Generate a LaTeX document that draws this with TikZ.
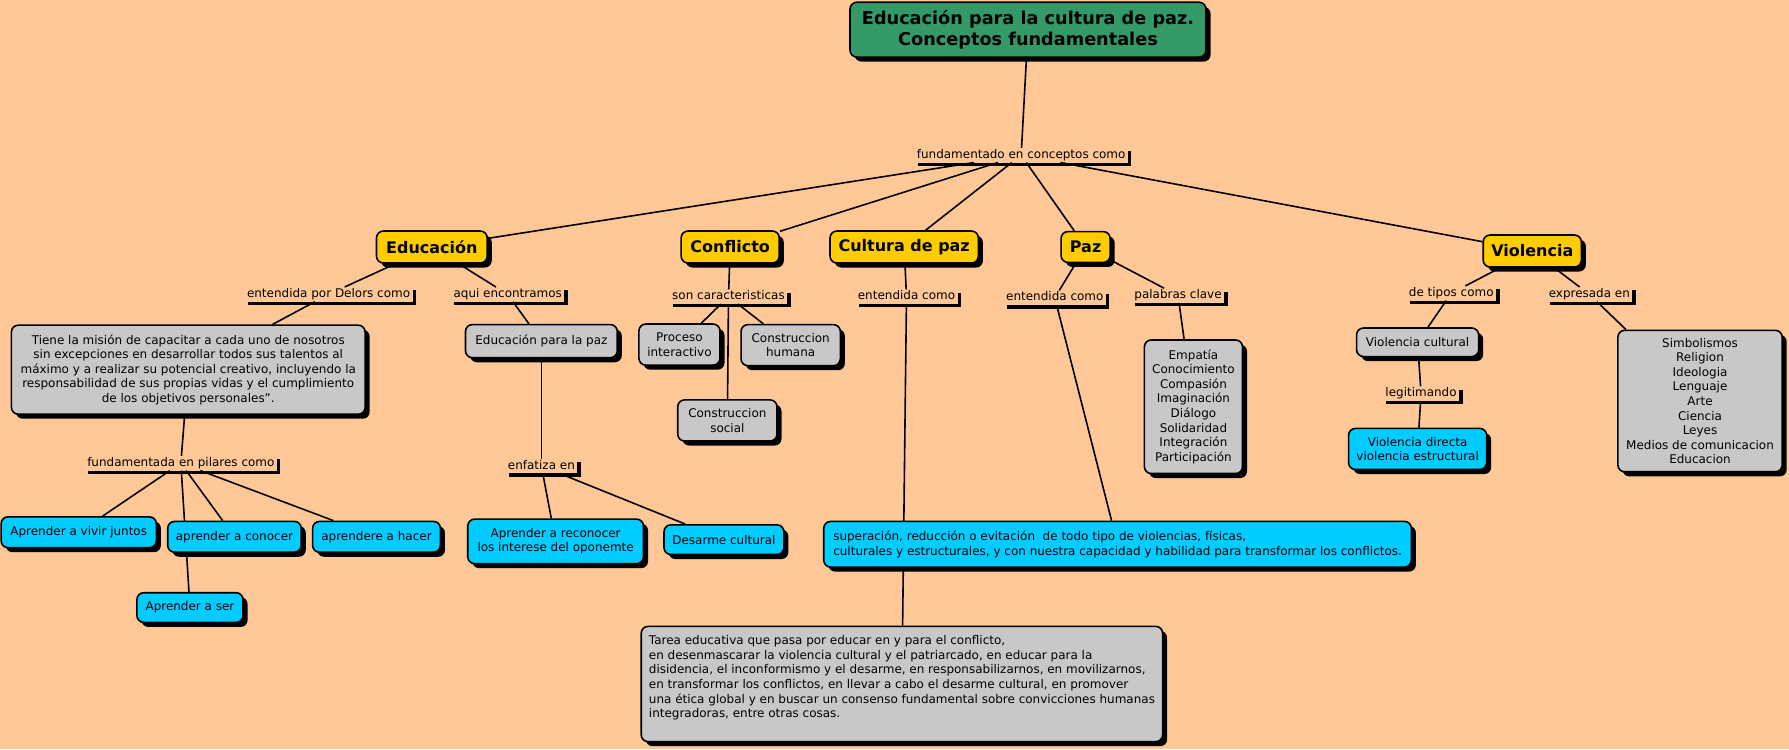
\documentclass[tikz,border=0pt]{standalone}
\usepackage{fontspec}
\setmainfont{DejaVu Sans}
\usetikzlibrary{shadows,backgrounds}

\definecolor{fondo}{RGB}{255,200,150}
\definecolor{verde}{RGB}{51,153,102}
\definecolor{amarillo}{RGB}{255,204,0}
\definecolor{celeste}{RGB}{0,204,255}
\definecolor{gris}{RGB}{200,200,200}

\tikzset{
	caja/.style={draw, line width=1.4pt, rounded corners=6pt, align=center, inner xsep=3pt, inner ysep=2pt,
		drop shadow={shadow xshift=4pt, shadow yshift=-4pt, opacity=1, fill=black}},
	titulo/.style={caja, fill=verde, font=\fontsize{15.5}{19}\selectfont\bfseries},
	concepto/.style={caja, fill=amarillo, font=\fontsize{14}{17}\selectfont\bfseries},
	cgris/.style={caja, fill=gris, font=\fontsize{10.5}{12.8}\selectfont},
	cceleste/.style={caja, fill=celeste, font=\fontsize{10.5}{12.8}\selectfont},
	enlace/.style={inner xsep=2pt, inner ysep=1pt, text height=8pt, text depth=2.5pt, font=\fontsize{10.5}{12.8}\selectfont},
	linea/.style={line width=1.4pt}
}
\def\sombra(#1){\draw[line width=3pt, line join=miter] ([xshift=3pt,yshift=-1.5pt]#1.south west) -- ([xshift=1.5pt,yshift=-1.5pt]#1.south east) -- ([xshift=1.5pt,yshift=-3pt]#1.north east);}

\begin{document}
\begin{tikzpicture}[x=1pt, y=-1pt]
			%%%%% START %%%%%
			\useasboundingbox (0, 0) rectangle (1568, 656.5);
			
			\node[titulo, minimum width=312pt, minimum height=48pt] (titulo) at (901, 26) {Educación para la cultura de paz.\\Conceptos fundamentales};
			\node[enlace] (fundamentado) at (895, 136) {fundamentado en conceptos como};
			
			\node[concepto, minimum width=97pt, minimum height=28pt] (educacion) at (378.5, 216.5) {Educación};
			\node[concepto, minimum width=86pt, minimum height=28pt] (conflicto) at (640, 216.5) {Conflicto};
			\node[concepto, minimum width=130pt, minimum height=28pt] (cultura) at (792.5, 216.5) {Cultura de paz};
			\node[concepto, minimum width=43pt, minimum height=27pt] (paz) at (951.5, 216.5) {Paz};
			\node[concepto, minimum width=86pt, minimum height=28pt] (violencia) at (1343, 220) {Violencia};
			
			% Educacion
			\node[enlace] (delors) at (288, 258) {entendida por Delors como};
			\node[enlace] (encontramos) at (445, 258) {aqui encontramos};
			\node[cgris, minimum width=310pt, minimum height=78pt] (mision) at (165, 324) {Tiene la misión de capacitar a cada uno de nosotros\\sin excepciones en desarrollar todos sus talentos al\\máximo y a realizar su potencial creativo, incluyendo la\\responsabilidad de sus propias vidas y el cumplimiento\\de los objetivos personales”.};
			\node[cgris, minimum width=133pt, minimum height=29pt] (edupaz) at (474.5, 299) {Educación para la paz};
			\node[enlace] (pilares) at (158.5, 406) {fundamentada en pilares como};
			\node[enlace] (enfatiza) at (474.5, 408.5) {enfatiza en\ };
			\node[cceleste, minimum width=136pt, minimum height=27pt] (juntos) at (69, 466.5) {Aprender a vivir juntos};
			\node[cceleste, minimum width=117pt, minimum height=27pt] (conocer) at (205.5, 470.5) {aprender a conocer};
			\node[cceleste, minimum width=112pt, minimum height=27pt] (hacer) at (330, 470.5) {aprendere a hacer};
			\node[cceleste, minimum width=93pt, minimum height=26pt] (ser) at (166.5, 532.5) {Aprender a ser};
			\node[cceleste, minimum width=154pt, minimum height=39pt] (reconocer) at (487, 474.5) {Aprender a reconocer\\los interese del oponemte};
			\node[cceleste, minimum width=105pt, minimum height=26pt] (desarme) at (634.5, 473) {Desarme cultural};
			
			% Conflicto
			\node[enlace] (caracteristicas) at (638.5, 260) {son caracteristicas};
			\node[cgris, minimum width=71pt, minimum height=36pt] (proceso) at (595.5, 302) {Proceso\\interactivo};
			\node[cgris, minimum width=87pt, minimum height=36pt] (humana) at (693, 302.5) {Construccion\\humana};
			\node[cgris, minimum width=87pt, minimum height=36pt] (social) at (637.5, 368.5) {Construccion\\social};
			
			% Cultura de paz y Paz
			\node[enlace] (entcultura) at (794.5, 260) {entendida como};
			\node[enlace] (entpaz) at (924.5, 261) {entendida como};
			\node[enlace] (clave) at (1032.5, 259) {palabras clave};
			\node[cgris, minimum width=86pt, minimum height=117pt] (empatia) at (1046, 356.5) {Empatía\\Conocimiento\\Compasión\\Imaginación\\Diálogo\\Solidaridad\\Integración\\Participación};
			\node[cceleste, minimum width=515pt, minimum height=40pt, align=left] (superacion) at (979.5, 477) {superación, reducción o evitación~ de todo tipo de violencias, físicas,\\culturales y estructurales, y con nuestra capacidad y habilidad para transformar los conflictos.};
			\node[cgris, minimum width=457pt, minimum height=101pt, align=left] (tarea) at (790.5, 599.5) {Tarea educativa que pasa por educar en y para el conflicto,\\en desenmascarar la violencia cultural y el patriarcado, en educar para la\\disidencia, el inconformismo y el desarme, en responsabilizarnos, en movilizarnos,\\en transformar los conflictos, en llevar a cabo el desarme cultural, en promover\\una ética global y en buscar un consenso fundamental sobre convicciones humanas\\integradoras, entre otras cosas.\\ \mbox{}};
			
			% Violencia
			\node[enlace] (tipos) at (1272, 257) {de tipos como};
			\node[enlace] (expresada) at (1393, 258) {expresada en};
			\node[cgris, minimum width=107pt, minimum height=25pt] (vcultural) at (1242.5, 300) {Violencia cultural};
			\node[enlace] (legitimando) at (1245.5, 345) {legitimando};
			\node[cceleste, minimum width=121pt, minimum height=36pt] (vdirecta) at (1242.5, 393.5) {Violencia directa\\violencia estructural};
			\node[cgris, minimum width=144pt, minimum height=124pt] (simbolos) at (1490, 351.5) {Simbolismos\\Religion\\Ideologia\\Lenguaje\\Arte\\Ciencia\\Leyes\\Medios de comunicacion\\Educacion};
			
			\sombra(fundamentado)
			\sombra(delors)
			\sombra(encontramos)
			\sombra(pilares)
			\sombra(enfatiza)
			\sombra(caracteristicas)
			\sombra(entcultura)
			\sombra(entpaz)
			\sombra(clave)
			\sombra(tipos)
			\sombra(expresada)
			\sombra(legitimando)
			
			\begin{scope}[on background layer]
				\fill[fondo] (0, 0) rectangle (1568, 656.5);
				
				\draw[linea] (titulo) -- (fundamentado);
				\draw[linea] (fundamentado) -- (educacion);
				\draw[linea] (fundamentado) -- (conflicto);
				\draw[linea] (fundamentado) -- (cultura);
				\draw[linea] (fundamentado) -- (paz);
				\draw[linea] (fundamentado) -- (violencia);
				
				\draw[linea] (educacion) -- (delors);
				\draw[linea] (delors) -- (mision);
				\draw[linea] (mision) -- (pilares);
				\draw[linea] (pilares) -- (juntos);
				\draw[linea] (pilares) -- (conocer);
				\draw[linea] (pilares) -- (hacer);
				\draw[linea] (pilares) -- (ser);
				\draw[linea] (educacion) -- (encontramos);
				\draw[linea] (encontramos) -- (edupaz);
				\draw[linea] (edupaz) -- (enfatiza);
				\draw[linea] (enfatiza) -- (reconocer);
				\draw[linea] (enfatiza) -- (desarme);
				
				\draw[linea] (conflicto) -- (caracteristicas);
				\draw[linea] (caracteristicas) -- (proceso);
				\draw[linea] (caracteristicas) -- (humana);
				\draw[linea] (caracteristicas) -- (social);
				
				\draw[linea] (cultura) -- (entcultura);
				\draw[linea] (entcultura) -- (tarea);
				\draw[linea] (paz) -- (entpaz);
				\draw[linea] (entpaz) -- (superacion);
				\draw[linea] (paz) -- (clave);
				\draw[linea] (clave) -- (empatia);
				
				\draw[linea] (violencia) -- (tipos);
				\draw[linea] (tipos) -- (vcultural);
				\draw[linea] (vcultural) -- (legitimando);
				\draw[linea] (legitimando) -- (vdirecta);
				\draw[linea] (violencia) -- (expresada);
				\draw[linea] (expresada) -- (simbolos);
			\end{scope}
			
			%%%%% END %%%%%
\end{tikzpicture}
\end{document}
